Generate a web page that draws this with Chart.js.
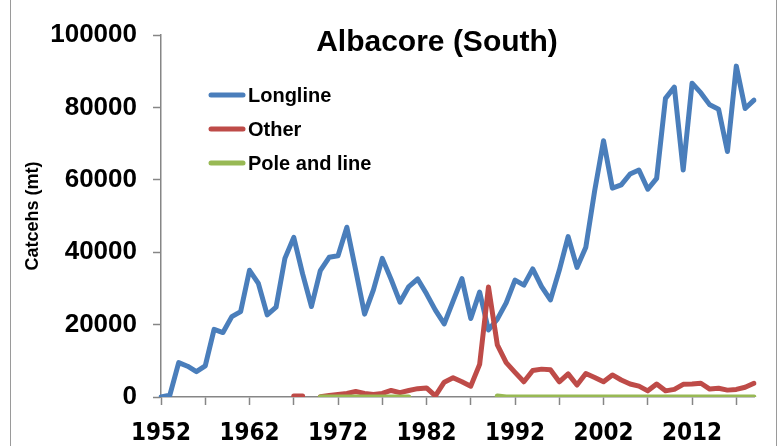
<!DOCTYPE html>
<html>
<head>
<meta charset="utf-8">
<script src="https://cdn.jsdelivr.net/npm/chart.js@4"></script>
<style>
  body { margin: 0; background: #fff; overflow: hidden; }
  #wrap { position: relative; width: 780px; height: 446px; }
  #frame { position: absolute; left: 10px; top: 0; width: 767px; height: 446px; box-sizing: border-box;
           border-left: 1px solid #9a9a9a; border-right: 1px solid #9a9a9a; pointer-events: none; }
</style>
</head>
<body>
<div id="wrap">
  <canvas id="albacoreChart" width="780" height="446"></canvas>
  <div id="frame"></div>
</div>
<script>
// categorias (anos)
var years = [1952, 1953, 1954, 1955, 1956, 1957, 1958, 1959, 1960, 1961,
    1962, 1963, 1964, 1965, 1966, 1967, 1968, 1969, 1970, 1971,
    1972, 1973, 1974, 1975, 1976, 1977, 1978, 1979, 1980, 1981,
    1982, 1983, 1984, 1985, 1986, 1987, 1988, 1989, 1990, 1991,
    1992, 1993, 1994, 1995, 1996, 1997, 1998, 1999, 2000, 2001,
    2002, 2003, 2004, 2005, 2006, 2007, 2008, 2009, 2010, 2011,
    2012, 2013, 2014, 2015, 2016, 2017, 2018, 2019];

// capturas (mt)
var longline = [0, 500, 9500, 8500, 7000, 8600, 18700, 17800, 22200, 23600,
    35000, 31400, 22700, 24800, 38300, 44100, 34000, 25000, 34900, 38600,
    39000, 46900, 35000, 22900, 29600, 38300, 32500, 26200, 30500, 32600,
    28500, 24000, 20200, 26500, 32700, 21700, 29000, 18500, 21500, 26000,
    32300, 30900, 35400, 30500, 26800, 35000, 44300, 35800, 41400, 57000,
    70800, 57700, 58600, 61600, 62700, 57400, 60400, 82500, 85600, 62700,
    86700, 84000, 80700, 79500, 67800, 91400, 79700, 82000];

var other = [null, null, null, null, null, null, null, null, null, null,
    null, null, null, null, null, 300, 300, null, 100, 400,
    700, 1000, 1500, 1000, 700, 1000, 1800, 1200, 1800, 2300,
    2500, 300, 4100, 5300, 4200, 3000, 9000, 30400, 14400, 9500,
    6800, 4200, 7300, 7700, 7500, 4200, 6400, 3300, 6500, 5400,
    4200, 6100, 4700, 3600, 3000, 1700, 3600, 1700, 2100, 3500,
    3600, 3800, 2200, 2400, 1900, 2100, 2700, 3800];

var poleAndLine = [null, null, null, null, null, null, null, null, null, null,
    null, null, null, null, null, null, null, null, 0, 0,
    0, 0, 0, 0, 0, 0, 0, 0, 0, null,
    null, null, null, null, null, null, null, null, 300, 0,
    0, 0, 0, 0, 0, 0, 0, 0, 0, 0,
    0, 0, 0, 0, 0, 0, 0, 0, 0, 0,
    0, 0, 0, 0, 0, 0, 0, 0];

var yTicks = [0, 20000, 40000, 60000, 80000, 100000];

var seriesNames = ["Longline", "Other", "Pole and line"];
var chartTitle = "Albacore (South)";
var yTitle = "Catcehs (mt)";

var axisColor = "#868686";
var fontFamily = "'Liberation Sans', Arial, sans-serif";

// titulo e legenda dentro da area do grafico
var insideText = {
    id: 'insideText',
    afterDraw: function (chart) {
        var ctx = chart.ctx;
        var area = chart.chartArea;
        ctx.save();
        ctx.fillStyle = "#000";
        ctx.font = "bold 30px " + fontFamily;
        ctx.textAlign = "center";
        ctx.textBaseline = "middle";
        ctx.fillText(chartTitle, area.left + 276, area.top + 8);

        ctx.font = "bold 20px " + fontFamily;
        ctx.textAlign = "left";
        chart.data.datasets.forEach(function (ds, i) {
            var y = area.top + 60 + i * 34;
            ctx.strokeStyle = ds.borderColor;
            ctx.lineWidth = 5;
            ctx.lineCap = "round";
            ctx.beginPath();
            ctx.moveTo(area.left + 50, y);
            ctx.lineTo(area.left + 82, y);
            ctx.stroke();
            ctx.fillText(ds.label, area.left + 87, y + 1);
        });
        ctx.restore();
    }
};

var lineStyle = function (label, data, color, order) {
    return {
        label: label,
        data: data,
        borderColor: color,
        backgroundColor: color,
        borderWidth: 5,
        borderCapStyle: 'round',
        borderJoinStyle: 'round',
        pointRadius: 0,
        tension: 0,
        fill: false,
        order: order
    };
};

var ctx1 = document.getElementById("albacoreChart").getContext("2d");
new Chart(ctx1, {
    type: 'line',
    data: {
        labels: years,
        datasets: [
            lineStyle(seriesNames[0], longline, "#4a7ebb", 3),
            lineStyle(seriesNames[1], other, "#be4b48", 2),
            lineStyle(seriesNames[2], poleAndLine, "#98b954", 1)
        ]
    },
    options: {
        responsive: false,
        animation: false,
        devicePixelRatio: 1,
        layout: { padding: { top: 35, right: 26, left: 0, bottom: 0 } },
        plugins: {
            legend: { display: false },
            title: { display: false },
            tooltip: { enabled: false }
        },
        scales: {
            x: {
                type: 'category',
                offset: false,
                afterFit: function (scale) { scale.height = 49; },
                border: { color: axisColor, width: 1.5 },
                grid: {
                    drawOnChartArea: false,
                    drawTicks: true,
                    tickLength: 8,
                    tickWidth: 1.5,
                    tickColor: function (c) { return c.index % 5 === 0 ? axisColor : 'rgba(0,0,0,0)'; }
                },
                ticks: {
                    autoSkip: false,
                    maxRotation: 0,
                    minRotation: 0,
                    padding: 14,
                    color: "#000",
                    font: { family: "'DejaVu Sans Condensed', 'Liberation Sans', sans-serif", size: 24, weight: 'bold' },
                    callback: function (val, index) { return index % 10 === 0 ? String(years[index]) : ''; }
                }
            },
            y: {
                min: yTicks[0],
                max: yTicks[yTicks.length - 1],
                afterFit: function (scale) { scale.width = 161; },
                afterBuildTicks: function (scale) {
                    scale.ticks = yTicks.map(function (v) { return { value: v }; });
                },
                border: { color: axisColor, width: 1.5 },
                grid: {
                    drawOnChartArea: false,
                    drawTicks: true,
                    tickLength: 8,
                    tickWidth: 1.5,
                    tickColor: axisColor
                },
                ticks: {
                    padding: 16,
                    color: "#000",
                    font: { family: fontFamily, size: 26, weight: 'bold' },
                    callback: function (v) { return String(v); }
                },
                title: {
                    display: true,
                    text: yTitle,
                    color: "#000",
                    padding: { top: 22, bottom: 0 },
                    font: { family: fontFamily, size: 18, weight: 'bold' }
                }
            }
        }
    },
    plugins: [insideText]
});
</script>
</body>
</html>
